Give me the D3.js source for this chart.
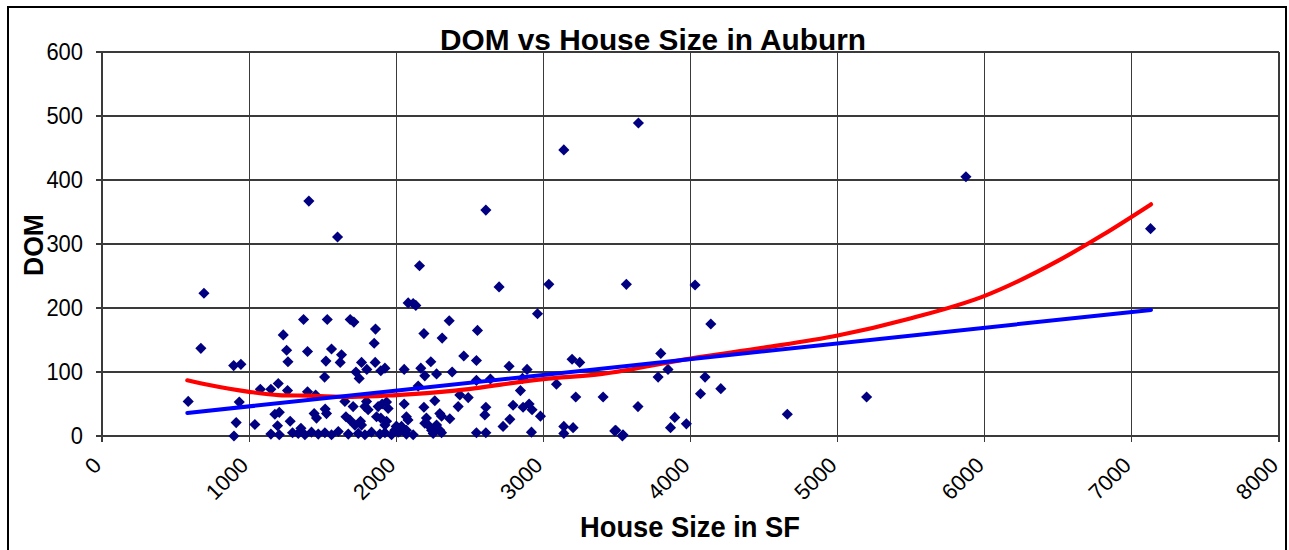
<!DOCTYPE html>
<html><head><meta charset="utf-8">
<script src="https://cdn.jsdelivr.net/npm/d3@7"></script>
<style>
html,body{margin:0;padding:0;background:#fff;}
svg{display:block;font-family:"Liberation Sans",Arial,sans-serif;}
</style></head>
<body>
<svg id="chart" width="1289" height="550"></svg>
<script>
// ---- data ----
const houseSize = [
 586,672,693,895,944,933,912,897,
 1039,1076,1148,1198,1261,1232,1255,1264,1175,1205,1193,1279,1148,1205,1295,1352,
 1370,1531,1687,1712,1859,1850,1397,1560,1522,1513,1628,1619,1764,1800,1726,1748,1857,1895,1923,
 2054,2081,1397,1452,1442,1458,1526,1651,1707,1658,1685,1787,1809,1798,1719,1764,1877,1904,1866,1895,1945,1923,2054,2036,1990,
 1334,1379,1424,1470,1515,1560,1606,1674,1742,1787,1832,1889,1923,1968,2013,2069,
 1517,1757,1934,1934,2002,1406,1601,
 2115,2133,2158,2360,2188,2312,2552,2459,2545,2235,2167,2194,2274,2380,2767,2149,2545,2640,2432,2489,
 2188,2262,2296,2308,2421,2364,2609,2602,2794,2772,2726,2069,2080,2205,2217,2274,2296,2069,2115,2251,2308,2545,2609,
 2000,2024,2058,2194,2240,2609,2699,
 3037,3564,2960,3195,3247,2889,2858,2844,3089,3220,3406,3643,2862,2903,2923,2980,2919,3139,3202,3139,3492,3541,3485,3537,
 3646,3139,4031,4138,3798,3780,3847,4099,4068,4206,3893,3864,3972,4658,5872,7127,5197
];
const daysOnMarket = [
 54,137,223,110,112,53,21,0,
 18,73,73,82,71,158,134,116,34,37,16,23,3,2,5,12,
 182,182,182,178,167,145,132,136,117,92,127,115,115,104,100,90,115,102,106,
 104,208,69,64,35,28,35,54,46,30,25,46,41,54,17,17,46,50,30,28,43,17,50,15,9,
 4,2,6,3,5,2,7,3,4,2,6,3,5,2,6,3,
 42,23,53,23,15,367,311,
 207,204,266,180,160,153,165,125,118,116,106,94,97,100,109,78,87,89,64,60,
 45,55,35,31,46,27,45,33,48,26,15,30,25,28,17,17,9,9,2,4,5,5,5,
 15,7,9,20,9,353,233,
 237,237,191,120,115,104,90,71,81,61,61,46,45,50,41,31,6,15,13,4,9,2,8,0,
 489,447,236,175,129,92,104,92,66,74,29,13,19,34,405,324,61
];
// linear trend line (end points)
const linearX = [580, 7130];
const linearY = [36, 197];
// polynomial trend curve
const polyX = [580, 720, 1000, 1200, 1400, 1700, 2000, 2400, 3000, 3400, 4000, 4500, 5000, 5500, 6000, 6500, 6800, 7130];
const polyY = [87, 80, 69, 64, 63, 61, 64, 71, 89, 97, 121, 138, 157, 184, 219, 274, 314, 362];

const xTicks = [0,1000,2000,3000,4000,5000,6000,7000,8000];
const yTicks = [0,100,200,300,400,500,600];
const titleText = "DOM vs House Size in Auburn";
const xTitle = "House Size in SF";
const yTitle = "DOM";

// ---- drawing ----
const svg = d3.select("#chart");
const pL = 102, pR = 1279, pT = 52, pB = 436;
const x = d3.scaleLinear().domain([0, 8000]).range([pL, pR]);
const y = d3.scaleLinear().domain([0, 600]).range([pB, pT]);

// outer frame
svg.append("rect").attr("x", 8).attr("y", 7).attr("width", 1278).attr("height", 600)
  .attr("fill", "none").attr("stroke", "#000").attr("stroke-width", 2);

// grid
const grid = svg.append("g").attr("stroke", "#3a3a3a").attr("stroke-width", 1.2).attr("shape-rendering", "crispEdges");
grid.selectAll("line.h").data(yTicks).join("line").attr("class", "h")
  .attr("x1", pL - 6).attr("x2", pR).attr("y1", d => y(d)).attr("y2", d => y(d));
grid.selectAll("line.v").data(xTicks).join("line").attr("class", "v")
  .attr("y1", pT).attr("y2", pB + 6).attr("x1", d => x(d)).attr("x2", d => x(d));

// y tick labels
svg.append("g").selectAll("text").data(yTicks).join("text")
  .attr("x", 83).attr("y", d => y(d)).attr("dy", "0.36em")
  .attr("text-anchor", "end").attr("font-size", 23).attr("fill", "#000")
  .attr("textLength", d => String(d).length * 12.2).attr("lengthAdjust", "spacingAndGlyphs")
  .text(d => d);

// x tick labels
svg.append("g").selectAll("text").data(xTicks).join("text")
  .attr("transform", d => `translate(${x(d) - 5},${461}) rotate(-45)`)
  .attr("dy", "0.36em").attr("text-anchor", "end").attr("font-size", 22).attr("fill", "#000")
  .text(d => d);

// points
const pts = houseSize.map((v, i) => [v, daysOnMarket[i]]);
const diamond = d3.symbol().type(d3.symbolSquare).size(62);
svg.append("g").selectAll("path").data(pts).join("path")
  .attr("d", diamond)
  .attr("transform", d => `translate(${x(d[0])},${y(d[1])}) rotate(45)`)
  .attr("fill", "#000080");

// trend lines
const lineGen = d3.line().x(d => x(d[0])).y(d => y(d[1]));
const polyLine = d3.line().x(d => x(d[0])).y(d => y(d[1])).curve(d3.curveMonotoneX);
svg.append("path").datum(polyX.map((v, i) => [v, polyY[i]]))
  .attr("d", polyLine).attr("fill", "none").attr("stroke", "#ff0000").attr("stroke-width", 4.2).attr("stroke-linecap", "round");
svg.append("path").datum(linearX.map((v, i) => [v, linearY[i]]))
  .attr("d", lineGen).attr("fill", "none").attr("stroke", "#0000ff").attr("stroke-width", 4).attr("stroke-linecap", "round");

// titles
svg.append("text").attr("x", 653).attr("y", 50).attr("text-anchor", "middle")
  .attr("font-size", 30).attr("font-weight", "bold").attr("textLength", 426).attr("lengthAdjust", "spacingAndGlyphs")
  .text(titleText);
svg.append("text").attr("x", 690).attr("y", 537).attr("text-anchor", "middle")
  .attr("font-size", 29).attr("font-weight", "bold").attr("textLength", 220).attr("lengthAdjust", "spacingAndGlyphs")
  .text(xTitle);
svg.append("text").attr("transform", "translate(43,245) rotate(-90)").attr("text-anchor", "middle")
  .attr("font-size", 28).attr("font-weight", "bold").attr("textLength", 62).attr("lengthAdjust", "spacingAndGlyphs")
  .text(yTitle);
</script>
</body></html>
